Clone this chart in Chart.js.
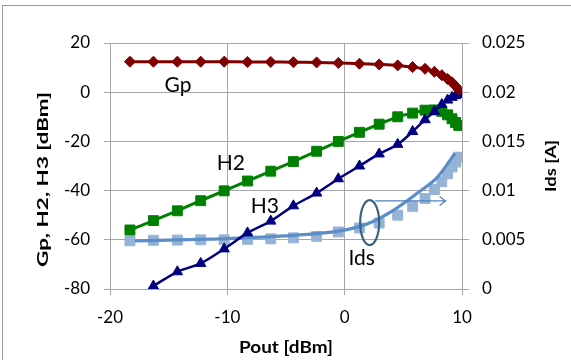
<!DOCTYPE html>
<html><head><meta charset="utf-8">
<script src="https://cdn.jsdelivr.net/npm/chart.js@4.4.0/dist/chart.umd.min.js"></script>
<style>html,body{margin:0;padding:0;background:#fff;} canvas{display:block;}</style>
</head><body>
<canvas id="c" width="571" height="360"></canvas>
<script>
// ---- data ----
const pout = [-18.3, -16.3, -14.26, -12.27, -10.27, -8.28, -6.3, -4.37, -2.39, -0.54, 1.26, 2.94, 4.52, 5.79, 6.85, 7.65, 8.28, 8.77, 9.15, 9.45, 9.72];
const gp   = [12.4, 12.4, 12.4, 12.4, 12.4, 12.3, 12.3, 12.2, 12.1, 11.9, 11.6, 11.3, 10.9, 10.2, 9.5, 8.3, 6.9, 5.4, 4.0, 2.5, 1.0];
const h2   = [-56.0, -52.2, -48.2, -44.1, -40.1, -36.1, -32.1, -28.2, -24.0, -20.0, -16.3, -13.0, -10.0, -8.5, -7.3, -7.2, -7.8, -9.2, -10.8, -12.3, -13.5];
const h3   = [null, -78.8, -73.0, -69.6, -63.7, -57.2, -52.4, -46.2, -41.0, -35.2, -30.0, -25.1, -21.2, -16.0, -11.2, -7.8, -5.0, -3.2, -2.1, -1.4, -0.9];
const ids  = [0.0049, 0.00495, 0.00497, 0.0050, 0.0050, 0.00505, 0.0051, 0.0052, 0.00535, 0.0058, 0.0062, 0.0067, 0.0075, 0.0084, 0.0092, 0.0101, 0.0109, 0.0117, 0.0124, 0.0129, 0.0134];
const idsFitX = [-17.9, -9.5, -3.8, -0.4, 1.9, 4.15, 6.15, 7.85, 8.4, 9.4];
const idsFitY = [0.0049, 0.00515, 0.0055, 0.0059, 0.0066, 0.0080, 0.0097, 0.0113, 0.0121, 0.0138];
const xTicks = ['-20', '-10', '0', '10'];
const yLeftTicks = ['-80', '-60', '-40', '-20', '0', '20'];
const yRightTicks = ['0', '0.005', '0.01', '0.015', '0.02', '0.025'];
const seriesLabels = ['Gp', 'H2', 'H3', 'Ids'];

// ---- chart ----
const FONT = 'Lato';
const GRID = '#a6a6a6';
const pts = (xs, ys) => xs.map((x, i) => ({x: x, y: ys[i]}));
const fixTicks = labels => scale => { scale.ticks = labels.map(t => ({value: Number(t), label: t})); };
const lbl = labels => (v) => { const i = labels.map(Number).indexOf(v); return i >= 0 ? labels[i] : ''; };

// draws bold text at a fixed size, squeezed horizontally to a target length
function fitText(c, text, x, y, rot, size, targetW) {
  c.save();
  c.font = 'bold ' + size + 'px ' + FONT;
  const w = c.measureText(text).width;
  c.translate(x, y);
  c.rotate(rot);
  c.scale(targetW / w, 1);
  c.fillText(text, 0, 0);
  c.restore();
}

const deco = {
  id: 'deco',
  beforeDraw(chart) {
    const c = chart.ctx;
    c.save();
    c.fillStyle = '#fff';
    c.fillRect(0, 0, chart.width, chart.height);
    c.strokeStyle = '#9a9a9a';
    c.lineWidth = 1;
    c.strokeRect(2.5, 5.5, 700, 500);
    c.restore();
  },
  afterDraw(chart) {
    const c = chart.ctx;
    const X = chart.scales.x, Y = chart.scales.y;
    c.save();
    // series labels
    c.fillStyle = '#000';
    c.font = '21px ' + FONT;
    c.textAlign = 'center';
    c.textBaseline = 'alphabetic';
    const lp = [[-14.2, 0.2], [-9.7, -31.6], [-6.8, -49.2], [1.45, -70.2]];
    seriesLabels.forEach((s, i) => c.fillText(s, X.getPixelForValue(lp[i][0]), Y.getPixelForValue(lp[i][1])));
    // ellipse around Ids
    const ex = X.getPixelForValue(2.13), ey = Y.getPixelForValue(-53);
    c.strokeStyle = '#3b6284';
    c.lineWidth = 2.2;
    c.beginPath();
    c.ellipse(ex, ey, 9.5, 22.5, 0, 0, Math.PI * 2);
    c.stroke();
    // arrow to right axis
    const ay = Y.getPixelForValue(-44.2);
    const ax0 = X.getPixelForValue(2.6), ax1 = X.getPixelForValue(8.6);
    c.strokeStyle = '#4f81bd';
    c.lineWidth = 1.2;
    c.beginPath();
    c.moveTo(ax0, ay); c.lineTo(ax1, ay);
    c.moveTo(ax1 - 6, ay - 4.5); c.lineTo(ax1, ay); c.lineTo(ax1 - 6, ay + 4.5);
    c.stroke();
    // axis titles
    c.fillStyle = '#000';
    c.textBaseline = 'middle';
    c.textAlign = 'center';
    fitText(c, 'Pout [dBm]', (chart.chartArea.left + chart.chartArea.right) / 2, 348, 0, 17, 94);
    fitText(c, 'Gp, H2, H3 [dBm]', 43, 179.5, -Math.PI / 2, 16, 175);
    fitText(c, 'Ids [A]', 551, 166, -Math.PI / 2, 16, 52);
    c.restore();
  }
};

new Chart(document.getElementById('c'), {
  type: 'scatter',
  data: {
    datasets: [
      {label: 'Gp', data: pts(pout, gp), yAxisID: 'y', showLine: true, borderColor: '#800000', backgroundColor: '#800000',
       borderWidth: 3, pointStyle: 'rectRot', pointRadius: 5.5, pointBorderWidth: 1, tension: 0.3, order: 1},
      {label: 'H3', data: pts(pout, h3), yAxisID: 'y', showLine: true, borderColor: '#000080', backgroundColor: '#000080',
       borderWidth: 2.5, pointStyle: 'triangle', pointRadius: 6, pointBorderWidth: 1, tension: 0.3, spanGaps: true, order: 2},
      {label: 'H2', data: pts(pout, h2), yAxisID: 'y', showLine: true, borderColor: '#008000', backgroundColor: '#008000',
       borderWidth: 3, pointStyle: 'rect', pointRadius: 7, pointBorderWidth: 1, tension: 0.3, order: 3},
      {label: 'Ids fit', data: pts(idsFitX, idsFitY), yAxisID: 'y1', showLine: true, borderColor: '#5b8ec9',
       borderWidth: 3.2, pointRadius: 0, cubicInterpolationMode: 'monotone', order: 4},
      {label: 'Ids', data: pts(pout, ids), yAxisID: 'y1', showLine: false, borderColor: '#95b3d7', backgroundColor: '#95b3d7',
       pointStyle: 'rect', pointRadius: 7, pointBorderWidth: 1, order: 5}
    ]
  },
  options: {
    responsive: false,
    animation: false,
    devicePixelRatio: 1,
    layout: {padding: {top: 43, left: 0, right: 0, bottom: 0}},
    plugins: {legend: {display: false}, tooltip: {enabled: false}},
    scales: {
      x: {
        type: 'linear', position: 'bottom', min: -20, max: 10,
        afterBuildTicks: fixTicks(xTicks),
        afterFit: s => { s.height = 71; },
        ticks: {callback: lbl(xTicks), color: '#000', font: {family: FONT, size: 17}, padding: 12, maxRotation: 0},
        grid: {color: GRID, lineWidth: 1, tickLength: 6},
        border: {color: GRID, width: 1}
      },
      y: {
        type: 'linear', position: 'left', min: -80, max: 20,
        afterBuildTicks: fixTicks(yLeftTicks),
        afterFit: s => { s.width = 110; },
        ticks: {callback: lbl(yLeftTicks), color: '#000', font: {family: FONT, size: 17}, padding: 14},
        grid: {color: GRID, lineWidth: 1, tickLength: 6},
        border: {color: GRID, width: 1}
      },
      y1: {
        type: 'linear', position: 'right', min: 0, max: 0.025,
        afterBuildTicks: fixTicks(yRightTicks),
        afterFit: s => { s.width = 109; },
        ticks: {callback: lbl(yRightTicks), color: '#000', font: {family: FONT, size: 17}, padding: 13},
        grid: {drawOnChartArea: false, color: GRID, lineWidth: 1, tickLength: 7},
        border: {color: GRID, width: 1}
      }
    }
  },
  plugins: [deco]
});
</script>
</body></html>
